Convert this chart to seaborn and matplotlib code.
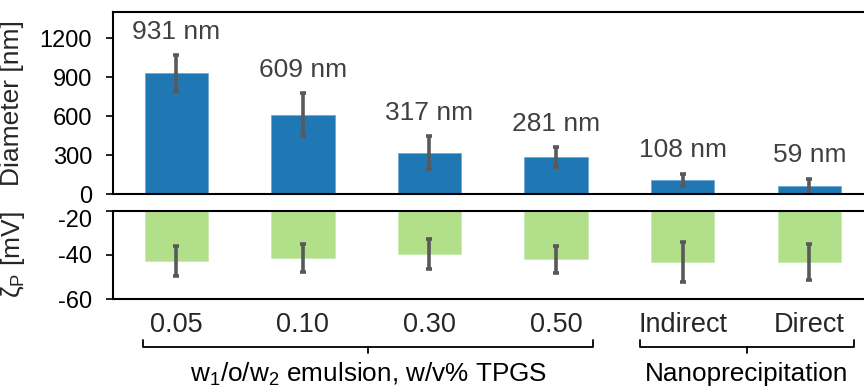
import matplotlib
matplotlib.use("Agg")
import matplotlib.pyplot as plt
import numpy as np
import pandas as pd
import seaborn as sns

# Formulation categories
categories = ["0.05", "0.10", "0.30", "0.50", "Indirect", "Direct"]

# Hydrodynamic diameter (nm) with standard deviation
diameter = [931, 609, 317, 281, 108, 59]
diameter_sd = [135, 165, 128, 77, 46, 56]

# Zeta potential (mV) with standard deviation
zeta = [-42.8, -41.3, -39.7, -42.0, -43.3, -43.3]
zeta_sd = [6.8, 6.4, 6.8, 6.1, 9.2, 8.3]

# Group brackets under the category labels
groups = ["w$_\\mathregular{1}$/o/w$_\\mathregular{2}$ emulsion, w/v% TPGS",
          "Nanoprecipitation"]

sns.set_theme(style="white")
plt.rcParams["font.family"] = ["Liberation Sans", "DejaVu Sans"]
plt.rcParams["mathtext.fontset"] = "custom"
plt.rcParams["mathtext.rm"] = "Liberation Sans"
plt.rcParams["axes.unicode_minus"] = False

df = pd.DataFrame({"cat": categories, "d": diameter, "z": zeta})

fig = plt.figure(figsize=(8.64, 3.89), dpi=100)
ax1 = fig.add_axes([113 / 864, 1 - 194 / 389, 759.6 / 864, 182 / 389])
ax2 = fig.add_axes([113 / 864, 1 - 299 / 389, 759.6 / 864, 88.3 / 389])

blue = "#1f78b4"
green = "#b2df8a"
errc = "#595959"
x = np.arange(len(categories))

sns.barplot(data=df, x="cat", y="d", color=blue, saturation=1, width=0.5,
            ax=ax1, errorbar=None, edgecolor="#6fa8d6", linewidth=0.6)
ax1.errorbar(x, diameter, yerr=diameter_sd, fmt="none", ecolor=errc,
             elinewidth=2.6, capsize=2.3, capthick=2.6)
for xi, v, s in zip(x, diameter, diameter_sd):
    ax1.annotate(f"{v} nm", (xi, v + s), xytext=(0, 17), textcoords="offset points",
                 ha="center", va="center", fontsize=19, color="#404040")
ax1.set_ylim(0, 1400)
ax1.set_yticks([0, 300, 600, 900, 1200])
ax1.set_xlim(-0.5, 5.5)
ax1.set_xticks([])
ax1.set_xlabel("")
ax1.set_ylabel("Diameter [nm]", fontsize=19)
ax1.yaxis.set_label_coords(-0.117, 0.5)

sns.barplot(data=df, x="cat", y="z", color=green, saturation=1, width=0.5,
            ax=ax2, errorbar=None, edgecolor="#c8ebb0", linewidth=0.6)
ax2.errorbar(x, zeta, yerr=zeta_sd, fmt="none", ecolor=errc,
             elinewidth=2.6, capsize=2.3, capthick=2.6)
ax2.set_ylim(-60, -20)
ax2.set_yticks([-60, -40, -20])
ax2.set_xlim(-0.5, 5.5)
ax2.set_xticks(x)
ax2.set_xticklabels(categories, fontsize=19.5)
ax2.tick_params(axis="x", length=0, pad=9)
ax2.set_xlabel("")
ax2.set_ylabel("ζ$_\\mathregular{P}$ [mV]", fontsize=19)
ax2.yaxis.set_label_coords(-0.113, 0.5)

for ax in (ax1, ax2):
    for side in ("left", "top", "bottom", "right"):
        ax.spines[side].set_visible(True)
        ax.spines[side].set_color("black")
        ax.spines[side].set_linewidth(1.5)
    ax.tick_params(axis="y", direction="out", length=5, width=1.2, color="black",
                   left=True, labelsize=17, pad=10, labelcolor="black")

# Nudge the top zeta label down so it clears the diameter axis "0"
fig.canvas.draw()
top_lbl = ax2.get_yticklabels()[-1]
top_lbl.set_transform(top_lbl.get_transform() +
                      matplotlib.transforms.ScaledTranslation(0, -8 / 100, fig.dpi_scale_trans))

# Group brackets drawn in data x / figure y coordinates
trans = matplotlib.transforms.blended_transform_factory(ax2.transData, fig.transFigure)
yb = 1 - 346.5 / 389
yc = 1 - 340 / 389
ym = 1 - 353 / 389
for (x0, x1), label in zip([(-0.26, 3.29), (3.66, 5.35)], groups):
    xm = (x0 + x1) / 2
    ax2.plot([x0, x0, x1, x1], [yc, yb, yb, yc], transform=trans, color="black",
             lw=1.3, clip_on=False, solid_joinstyle="round")
    ax2.plot([xm, xm], [yb, ym], transform=trans, color="black", lw=1.3, clip_on=False)
    ax2.text(xm, 1 - 374 / 389, label, transform=trans, ha="center", va="center",
             fontsize=18.8, color="black")

fig.savefig("out.png", dpi=100)
